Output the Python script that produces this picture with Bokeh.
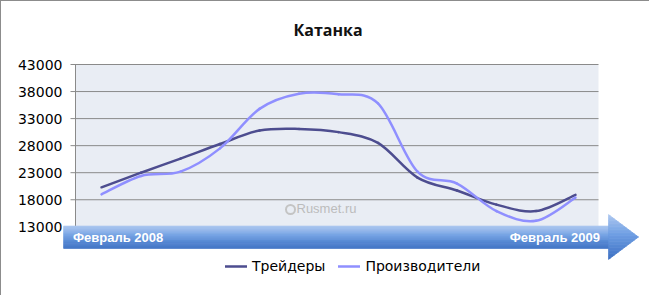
from bokeh.plotting import figure
from bokeh.models import FixedTicker, Range1d, Legend, LegendItem
from bokeh.core.properties import value
from bokeh.embed import file_html
from bokeh.resources import INLINE

# ---------------- data ----------------
months = ["Фев 2008", "Мар 2008", "Апр 2008", "Май 2008", "Июн 2008", "Июл 2008",
          "Авг 2008", "Сен 2008", "Окт 2008", "Ноя 2008", "Дек 2008", "Янв 2009", "Фев 2009"]
traders = [20300, 23000, 25600, 28300, 30800, 31100, 30500, 28500, 22100, 19700, 17100, 15900, 18900]
producers = [19000, 22400, 23200, 27500, 34800, 37600, 37500, 35800, 23200, 21000, 15900, 14100, 18400]
series_names = ["Трейдеры", "Производители"]
y_ticks = [13000, 18000, 23000, 28000, 33000, 38000, 43000]
arrow_labels = ["Февраль 2008", "Февраль 2009"]
title_text = "Катанка"
watermark_text = "Rusmet.ru"

# ---------------- geometry helpers (page pixels -> data) ----------------
X0_PX, X_STEP_PX = 101.0, 39.5
Y_TOP_PX, PX_PER_UNIT = 64.0, 27.05 / 5000.0
Y_TOP_VAL = y_ticks[-1]


def dx(px):
    return (px - X0_PX) / X_STEP_PX


def dy(py):
    return Y_TOP_VAL - (py - Y_TOP_PX) / PX_PER_UNIT


FRAME_L, FRAME_R, FRAME_T, FRAME_B = 63, 640, 56, 290
W, H = 649, 295  # plus 1px css border top/left

p = figure(width=W, height=H, output_backend="svg", toolbar_location=None,
           x_range=Range1d(dx(FRAME_L), dx(FRAME_R)),
           y_range=Range1d(dy(FRAME_B), dy(FRAME_T)),
           min_border_left=FRAME_L - 1, min_border_right=W - (FRAME_R - 1),
           min_border_top=FRAME_T - 1, min_border_bottom=H - (FRAME_B - 1))
p.styles = {"border-top": "1px solid #8c8c8c", "border-left": "1px solid #8c8c8c"}
p.outline_line_color = None
p.background_fill_color = "white"
p.border_fill_color = "white"
p.xgrid.visible = False
p.ygrid.visible = False
p.xaxis.visible = False

p.title.text = title_text
p.title.align = "left"
p.title.offset = 230
p.title.standoff = 31
p.title.text_font = "Open Sans"
p.title.text_font_size = "16px"
p.title.text_font_style = "bold"
p.title.text_color = "#111111"

ya = p.yaxis[0]
ya.ticker = FixedTicker(ticks=y_ticks)
ya.axis_line_color = None
ya.major_tick_line_color = None
ya.major_tick_out = 0
ya.major_tick_in = 0
ya.minor_tick_line_color = None
ya.major_label_standoff = 1
ya.major_label_text_font = "DejaVu Sans"
ya.major_label_text_font_size = "14px"
ya.major_label_text_color = "#000000"

# plot area background
PA_L, PA_R = 75, 598
p.quad(left=dx(PA_L), right=dx(PA_R), bottom=y_ticks[0], top=y_ticks[-1],
       fill_color="#E9EDF4", line_color=None)
# gridlines (with outward tick) and axis line
p.segment(x0=[dx(70)] * len(y_ticks), x1=[dx(PA_R)] * len(y_ticks), y0=y_ticks, y1=y_ticks,
          line_color="#8a8a8a", line_width=1)
p.segment(x0=[dx(PA_L)], x1=[dx(PA_L)], y0=[y_ticks[0]], y1=[y_ticks[-1]],
          line_color="#8a8a8a", line_width=1)

# watermark
p.scatter(x=[dx(290)], y=[dy(209)], size=9, marker="circle", fill_color=None,
          line_color="#c4c4c4", line_width=2)
p.text(x=[dx(296)], y=[dy(208)], text=[watermark_text], text_font=value("Liberation Sans"),
       text_font_size="13px", text_color="#bcbcbc", text_baseline="middle", text_align="left")


# smoothed series (Catmull-Rom -> cubic bezier control points)
def bezier_source(ys):
    xs = list(range(len(ys)))
    n = len(xs)
    d = dict(x0=[], y0=[], x1=[], y1=[], cx0=[], cy0=[], cx1=[], cy1=[])
    for i in range(n - 1):
        i0 = max(i - 1, 0)
        i3 = min(i + 2, n - 1)
        d["x0"].append(xs[i]); d["y0"].append(ys[i])
        d["x1"].append(xs[i + 1]); d["y1"].append(ys[i + 1])
        d["cx0"].append(xs[i] + (xs[i + 1] - xs[i0]) / 6.0)
        d["cy0"].append(ys[i] + (ys[i + 1] - ys[i0]) / 6.0)
        d["cx1"].append(xs[i + 1] - (xs[i3] - xs[i]) / 6.0)
        d["cy1"].append(ys[i + 1] - (ys[i3] - ys[i]) / 6.0)
    return d


colors = ["#4D4D8F", "#8F8FFF"]
renderers = []
for ys, col in zip([traders, producers], colors):
    r = p.bezier(source=bezier_source(ys), x0="x0", y0="y0", x1="x1", y1="y1",
                 cx0="cx0", cy0="cy0", cx1="cx1", cy1="cy1",
                 line_color=col, line_width=2.5, line_cap="round")
    renderers.append(r)


# arrow with vertical gradient strips
def hex2rgb(h):
    h = h.lstrip("#")
    return tuple(int(h[i:i + 2], 16) for i in (0, 2, 4))


STOPS = [(0.0, "#AFC9F1"), (0.45, "#6E9EE3"), (1.0, "#3C70C3")]


def grad(t):
    for (t0, c0), (t1, c1) in zip(STOPS[:-1], STOPS[1:]):
        if t <= t1:
            a, b = hex2rgb(c0), hex2rgb(c1)
            u = (t - t0) / (t1 - t0)
            return "#%02x%02x%02x" % tuple(int(round(a[k] + (b[k] - a[k]) * u)) for k in range(3))
    return STOPS[-1][1]


BODY_L, BODY_R, BODY_T, BODY_B = 62.5, 608.0, 225.5, 248.0
HEAD_T, HEAD_B, TIP_X = 214.0, 259.0, 638.0
N = 24
bl, br, bt, bb, bc = [], [], [], [], []
for k in range(N):
    y_a = BODY_T + (BODY_B - BODY_T) * k / N
    y_b = BODY_T + (BODY_B - BODY_T) * (k + 1) / N
    bl.append(dx(BODY_L)); br.append(dx(BODY_R + 0.5))
    bt.append(dy(y_a)); bb.append(dy(y_b))
    bc.append(grad((k + 0.5) / N))
p.quad(left=bl, right=br, top=bt, bottom=bb, fill_color=bc, line_color=bc, line_width=0.6)

mid = (HEAD_T + HEAD_B) / 2.0


def head_x(y):
    return BODY_R + (TIP_X - BODY_R) * (1 - abs(y - mid) / (mid - HEAD_T))


hx, hy, hc = [], [], []
M = 30
for k in range(M):
    y_a = HEAD_T + (HEAD_B - HEAD_T) * k / M
    y_b = HEAD_T + (HEAD_B - HEAD_T) * (k + 1) / M
    pts = [(BODY_R, y_a), (head_x(y_a), y_a)]
    if y_a < mid < y_b:
        pts.append((TIP_X, mid))
    pts += [(head_x(y_b), y_b), (BODY_R, y_b)]
    hx.append([dx(a) for a, _ in pts]); hy.append([dy(b) for _, b in pts])
    hc.append(grad((k + 0.5) / M))
p.patches(xs=hx, ys=hy, fill_color=hc, line_color=hc, line_width=0.6)

p.text(x=[dx(72.5)], y=[dy(237)], text=[arrow_labels[0]], text_font=value("Liberation Sans"),
       text_font_size="13px", text_font_style="bold", text_color="white",
       text_baseline="middle", text_align="left")
p.text(x=[dx(599.5)], y=[dy(237)], text=[arrow_labels[1]], text_font=value("Liberation Sans"),
       text_font_size="13px", text_font_style="bold", text_color="white",
       text_baseline="middle", text_align="right")

legend = Legend(items=[LegendItem(label=n, renderers=[r]) for n, r in zip(series_names, renderers)],
                orientation="horizontal", location=(162, 16), padding=0, margin=0,
                spacing=13, glyph_width=22, glyph_height=16, label_height=16,
                label_standoff=5, label_text_font="DejaVu Sans", label_text_font_size="14px",
                label_text_color="#000000", border_line_color=None, background_fill_alpha=0)
p.add_layout(legend)

open("out.html", "w").write(file_html(p, INLINE))
